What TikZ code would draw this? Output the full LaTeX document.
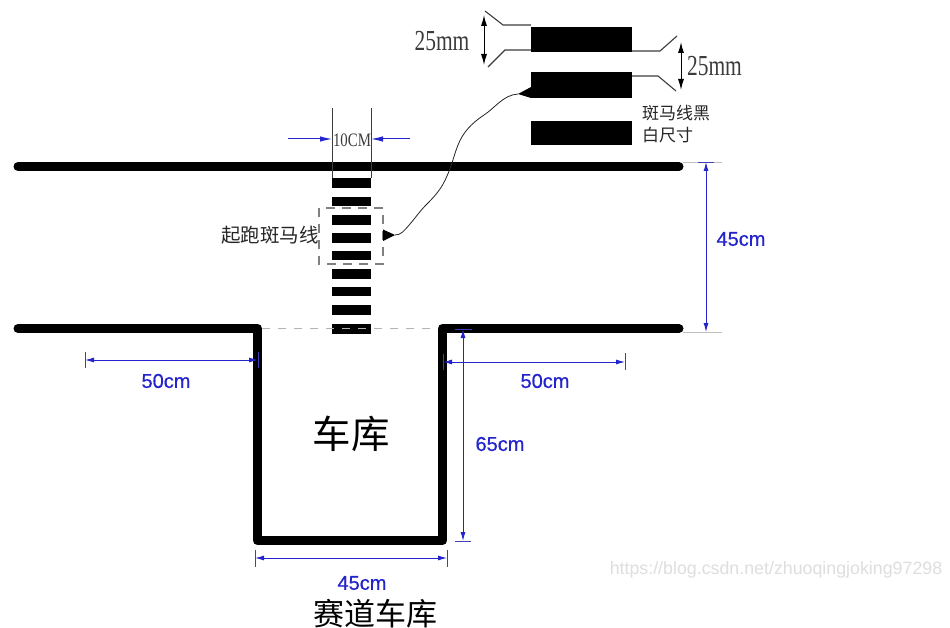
\documentclass[tikz,border=0pt]{standalone}
\usepackage{fontspec}
\setmainfont{Liberation Serif}
\setsansfont{Liberation Sans}
\newfontfamily\cjkfont{Noto Sans CJK SC}
\newfontfamily\dimfont[FakeBold=0.6]{Liberation Sans}
\usetikzlibrary{arrows.meta}
\definecolor{dimblue}{RGB}{36,36,205}
\definecolor{inkgray}{RGB}{60,60,60}
\definecolor{wmgray}{RGB}{222,222,222}
\tikzset{
  track/.style={line width=9pt,line cap=round,line join=round,draw=black},
  stripebar/.style={fill=black},
  dimline/.style={draw=dimblue,line width=1pt,{Latex[length=9pt,width=5pt]}-{Latex[length=9pt,width=5pt]}},
  dimtick/.style={draw=dimblue!70!gray,line width=0.9pt},
  extline/.style={draw=inkgray,line width=1.1pt},
  leader/.style={draw=black!85,line width=0.8pt},
  dimlabel/.style={text=dimblue,font=\dimfont\fontsize{20}{20}\selectfont,inner sep=0pt},
  mmlabel/.style={text=inkgray,inner sep=0pt,xscale=0.74,font=\rmfamily\fontsize{29}{29}\selectfont},
  cjklabel/.style={inner sep=0pt,font=\cjkfont},
}
\begin{document}
\begin{tikzpicture}[x=1pt,y=-1pt]
\useasboundingbox (0,0) rectangle (950,628);
\fill[white] (0,0) rectangle (950,628);

% track
\draw[track] (18,166.5) -- (679,166.5);
\draw[track] (18,328.5) -- (257.5,328.5) -- (257.5,540.5) -- (442.5,540.5) -- (442.5,328.5) -- (679,328.5);

% start-line stripes
\foreach \ya/\yb in {178/188,197/206,215/225,233/243,251/260,269/279,287/296,305/315,324/334}
  \fill[stripebar] (332,\ya) rectangle (371,\yb);
\draw[draw=black!30,dash pattern=on 8pt off 8pt,line width=0.9pt] (262,328.5) -- (438,328.5);

% 10CM dimension
\draw[extline,line width=0.9pt] (332,108) -- (332,178);
\draw[extline,line width=0.9pt] (371,108) -- (371,178);
\coordinate (tenL) at (332,139);
\coordinate (tenLo) at (288,139);
\coordinate (tenR) at (371,139);
\coordinate (tenRo) at (410,139);
\draw[draw=dimblue,line width=1pt,-{Latex[length=12pt,width=5.5pt]}] (tenLo) -- (tenL);
\draw[draw=dimblue,line width=1pt,-{Latex[length=12pt,width=5.5pt]}] (tenRo) -- (tenR);
\node[text=inkgray,inner sep=0pt,xscale=0.78,font=\rmfamily\fontsize{19}{19}\selectfont] (tencm) at (352,140.5) {10CM};

% dashed selection
\draw[draw=black!50,line width=1.2pt,dash pattern=on 9pt off 7pt] (319,208) rectangle (383,264);
\node[cjklabel,text=black!85,font=\cjkfont\fontsize{19.5}{20}\selectfont] (startlabel) at (270,235) {起跑斑马线};

% leader between the dashed box and the stripe sizes
\coordinate (leadA) at (395,235);
\coordinate (leadB) at (518,94);
\fill[black] (383,229.5) -- (383,241) -- (leadA) -- cycle;
\fill[black] (531,87) -- (531,98) -- (leadB) -- cycle;
\draw[leader] (leadA) .. controls (401,235) and (404,231) .. (410,224)
  .. controls (416,217) and (420,211) .. (426,205)
  .. controls (436,195) and (442,188) .. (447,176)
  .. controls (452,165) and (454,155) .. (458,145)
  .. controls (463,132) and (472,123) .. (484,115)
  .. controls (495,108) and (503,95) .. (leadB);

% enlarged stripes
\fill[stripebar] (531,27) rectangle (632,52);
\fill[stripebar] (531,72) rectangle (632,98);
\fill[stripebar] (531,121) rectangle (632,145);

% 25mm left
\draw[extline] (485,11) -- (503,25) -- (531,25);
\draw[extline] (488,67) -- (505,50) -- (531,50);
\coordinate (mmLa) at (484,15);
\coordinate (mmLb) at (484,65);
\draw[draw=black,line width=1pt,{Latex[length=11pt,width=6pt]}-{Latex[length=11pt,width=6pt]}] (mmLa) -- (mmLb);
\node[mmlabel] (mmleft) at (442,41) {25mm};

% 25mm right
\draw[extline] (632,51) -- (660,51) -- (677,36);
\draw[extline] (632,76) -- (658,76) -- (676,91);
\coordinate (mmRa) at (681,42);
\coordinate (mmRb) at (681,90);
\draw[draw=black,line width=1pt,{Latex[length=11pt,width=6pt]}-{Latex[length=11pt,width=6pt]}] (mmRa) -- (mmRb);
\node[mmlabel] (mmright) at (714.5,66.5) {25mm};

\node[cjklabel,text=black!85,font=\cjkfont\fontsize{17}{17}\selectfont,anchor=west] (sizeA) at (642,113) {斑马线黑};
\node[cjklabel,text=black!85,font=\cjkfont\fontsize{17}{17}\selectfont,anchor=west] (sizeB) at (642,135) {白尺寸};

% 45cm right
\draw[dimtick,black!25] (683,162) -- (722,162);
\draw[dimtick,black!25] (683,332) -- (722,332);
\draw[dimtick] (698,162) -- (714,162);
\coordinate (hA) at (706,162);
\coordinate (hB) at (706,332);
\draw[dimline] (hA) -- (hB);
\node[dimlabel] (h45) at (741,239) {45cm};

% 50cm left
\coordinate (lA) at (85,360);
\coordinate (lB) at (258,360);
\draw[dimtick] (85,352) -- (85,368);
\draw[dimtick] (258,352) -- (258,368);
\draw[dimline] (lA) -- (lB);
\node[dimlabel] (l50) at (166,381) {50cm};

% 50cm right
\coordinate (rA) at (443,362);
\coordinate (rB) at (625,362);
\draw[dimtick] (443,354) -- (443,370);
\draw[dimtick] (625,353) -- (625,370);
\draw[dimline] (rA) -- (rB);
\node[dimlabel] (r50) at (545,381) {50cm};

% 65cm
\coordinate (vA) at (463,329);
\coordinate (vB) at (463,541);
\draw[dimtick] (455,329) -- (472,329);
\draw[dimtick] (455,541) -- (471,541);
\draw[dimline] (vA) -- (vB);
\node[dimlabel] (v65) at (500,444) {65cm};

% 45cm bottom
\coordinate (bA) at (255,558);
\coordinate (bB) at (447,558);
\draw[dimtick] (255,550) -- (255,567);
\draw[dimtick] (447,550) -- (447,567);
\draw[dimline] (bA) -- (bB);
\node[dimlabel] (b45) at (362,583) {45cm};

% captions
\node[cjklabel,font=\cjkfont\fontsize{38.5}{39}\selectfont] (garage) at (351,434) {车库};
\node[cjklabel,font=\cjkfont\fontsize{31}{32}\selectfont] (caption) at (375.5,614) {赛道车库};
\node[inner sep=0pt,text=wmgray,font=\sffamily\fontsize{17.8}{18}\selectfont] (wm) at (776,570) {https://blog.csdn.net/zhuoqingjoking97298};
\end{tikzpicture}
\end{document}
